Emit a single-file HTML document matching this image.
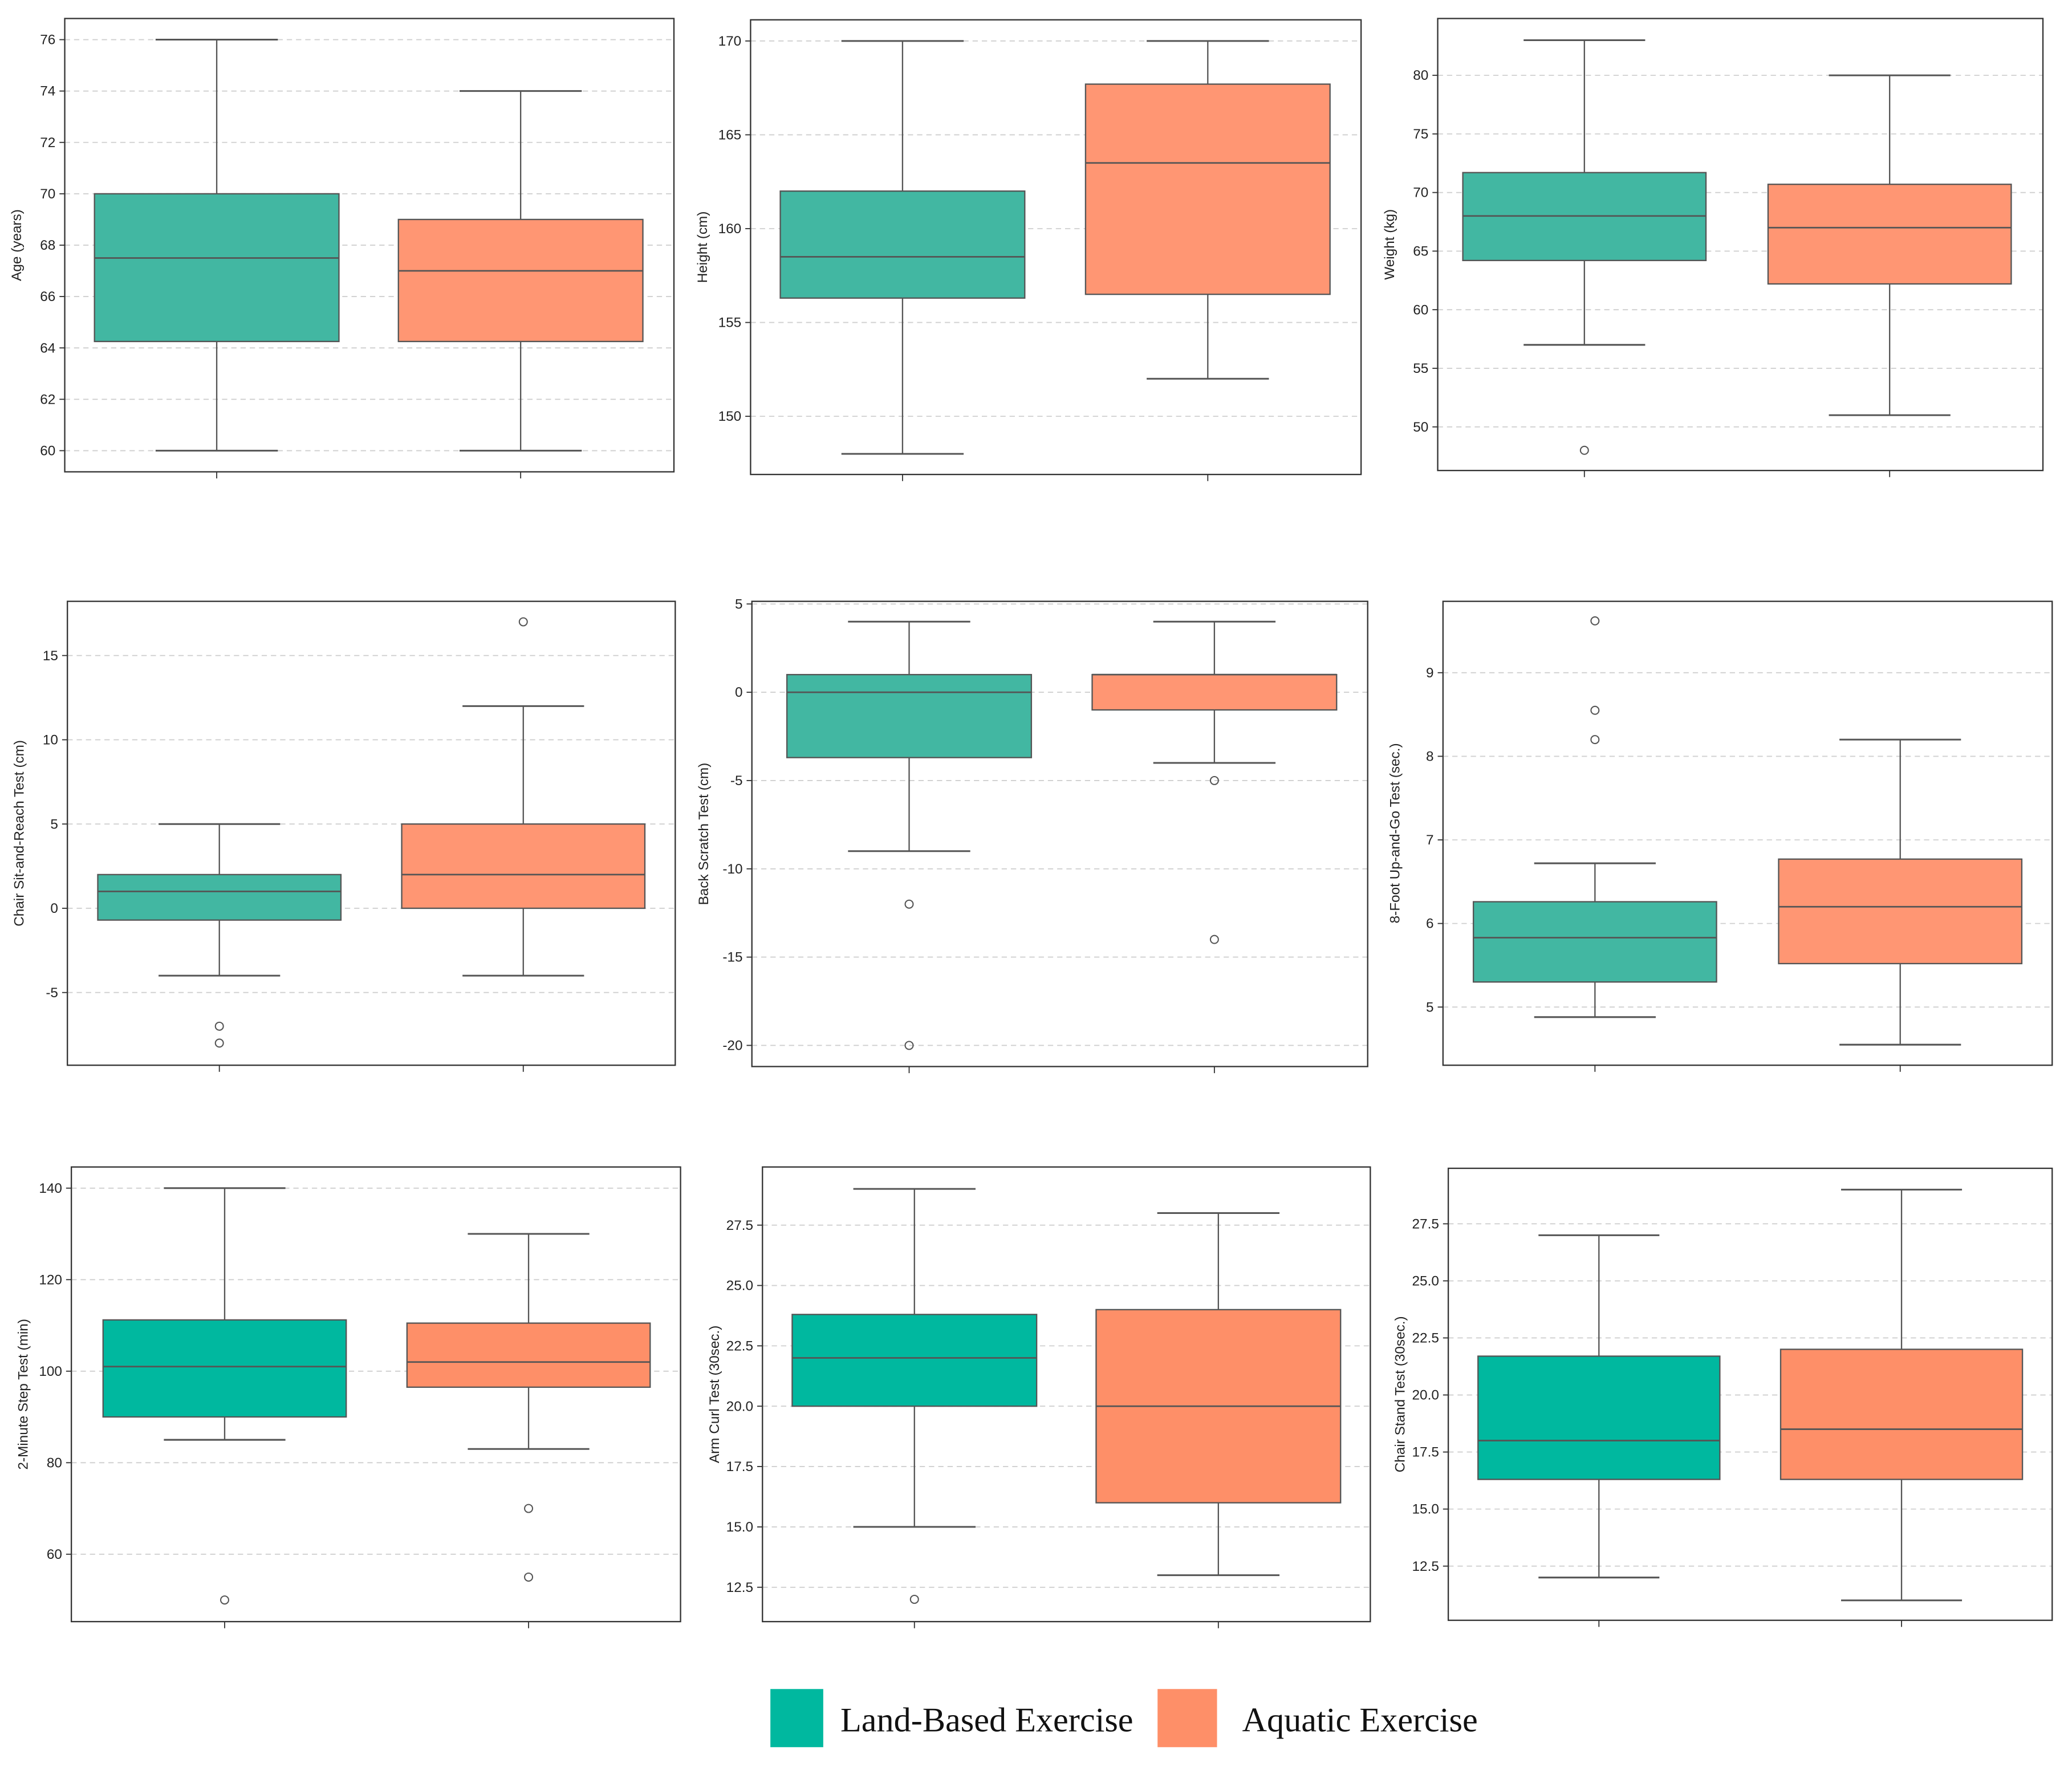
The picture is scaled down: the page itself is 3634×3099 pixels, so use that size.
<!DOCTYPE html>
<html><head><meta charset="utf-8"><style>
html,body{margin:0;padding:0;background:#fff}
svg{display:block}
</style></head><body>
<svg id="fig" xmlns="http://www.w3.org/2000/svg" width="3634" height="3099" viewBox="0 0 1568 1337" preserveAspectRatio="none">
<g>
<rect x="583" y="1278" width="40" height="44" fill="#00b89f"/>
<text x="636" y="1310" font-family="Liberation Serif, serif" font-size="26" fill="#111">Land-Based Exercise</text>
<rect x="876" y="1278" width="45" height="44" fill="#fe8f68"/>
<text x="940" y="1310" font-family="Liberation Serif, serif" font-size="26" fill="#111">Aquatic Exercise</text>
</g>
</svg>
<script>
// ---- data (whisker low, q1, median, q3, whisker high) ----
const groups = ["Land-Based Exercise","Aquatic Exercise"];
const ageLand = [60,64.25,67.5,70,76];
const ageAqua = [60,64.25,67,69,74];
const heightLand = [148,156.3,158.5,162,170];
const heightAqua = [152,156.5,163.5,167.7,170];
const weightLand = [57,64.2,68,71.7,83];
const weightAqua = [51,62.2,67,70.7,80];
const sitLand = [-4,-0.7,1,2,5];
const sitAqua = [-4,0,2,5,12];
const scratchLand = [-9,-3.7,0,1,4];
const scratchAqua = [-4,-1,1,1,4];
const upgoLand = [4.88,5.3,5.83,6.26,6.72];
const upgoAqua = [4.55,5.52,6.2,6.77,8.2];
const stepLand = [85,90,101,111.2,140];
const stepAqua = [83,96.5,102,110.5,130];
const curlLand = [15,20,22,23.8,29];
const curlAqua = [13,16,20,24,28];
const standLand = [12,16.3,18,21.7,27];
const standAqua = [11,16.3,18.5,22,29];
// outliers
const ageOutLand = [], ageOutAqua = [];
const heightOutLand = [], heightOutAqua = [];
const weightOutLand = [48], weightOutAqua = [];
const sitOutLand = [-7,-8], sitOutAqua = [17];
const scratchOutLand = [-12,-20], scratchOutAqua = [-5,-14];
const upgoOutLand = [8.2,8.55,9.62], upgoOutAqua = [];
const stepOutLand = [50], stepOutAqua = [70,55];
const curlOutLand = [12], curlOutAqua = [];
const standOutLand = [], standOutAqua = [];
// tick labels
const ageTicks = [60,62,64,66,68,70,72,74,76];
const heightTicks = [150,155,160,165,170];
const weightTicks = [50,55,60,65,70,75,80];
const sitTicks = [-5,0,5,10,15];
const scratchTicks = [-20,-15,-10,-5,0,5];
const upgoTicks = [5,6,7,8,9];
const stepTicks = [60,80,100,120,140];
const curlTicks = ["12.5","15.0","17.5","20.0","22.5","25.0","27.5"];
const standTicks = ["12.5","15.0","17.5","20.0","22.5","25.0","27.5"];

// ---- layout (pixel geometry, not data) ----
const C1=["#42b7a2","#ff9673"], C3=["#00b89f","#fe8f68"];
const panels = [
 {name:"age",label:"Age (years)",x0:49,x1:510,y0:14,y1:357,v0:60,p0:341,v1:76,p1:30,cx:[164,394],hw:92.5,data:[ageLand,ageAqua],out:[ageOutLand,ageOutAqua],ticks:ageTicks,col:C1},
 {name:"height",label:"Height (cm)",x0:568,x1:1030,y0:15,y1:359,v0:150,p0:315,v1:170,p1:31,cx:[683,914],hw:92.5,data:[heightLand,heightAqua],out:[heightOutLand,heightOutAqua],ticks:heightTicks,col:C1},
 {name:"weight",label:"Weight (kg)",x0:1088,x1:1546,y0:14,y1:356,v0:50,p0:323,v1:80,p1:57,cx:[1199,1430],hw:92,data:[weightLand,weightAqua],out:[weightOutLand,weightOutAqua],ticks:weightTicks,col:C1},
 {name:"sit-reach",label:"Chair Sit-and-Reach Test (cm)",x0:51,x1:511,y0:455,y1:806,v0:-5,p0:751,v1:15,p1:496,cx:[166,396],hw:92,data:[sitLand,sitAqua],out:[sitOutLand,sitOutAqua],ticks:sitTicks,col:C1},
 {name:"back-scratch",label:"Back Scratch Test (cm)",x0:569,x1:1035,y0:455,y1:807,v0:-20,p0:791,v1:5,p1:457,cx:[688,919],hw:92.5,data:[scratchLand,scratchAqua],out:[scratchOutLand,scratchOutAqua],ticks:scratchTicks,col:C1},
 {name:"up-and-go",label:"8-Foot Up-and-Go Test (sec.)",x0:1092,x1:1553,y0:455,y1:806,v0:5,p0:762,v1:9,p1:509,cx:[1207,1438],hw:92,data:[upgoLand,upgoAqua],out:[upgoOutLand,upgoOutAqua],ticks:upgoTicks,col:C1},
 {name:"step-test",label:"2-Minute Step Test (min)",x0:54,x1:515,y0:883,y1:1227,v0:60,p0:1176,v1:140,p1:899,cx:[170,400],hw:92,data:[stepLand,stepAqua],out:[stepOutLand,stepOutAqua],ticks:stepTicks,col:C3},
 {name:"arm-curl",label:"Arm Curl Test (30sec.)",x0:577,x1:1037,y0:883,y1:1227,v0:12.5,p0:1201,v1:27.5,p1:927,cx:[692,922],hw:92.5,data:[curlLand,curlAqua],out:[curlOutLand,curlOutAqua],ticks:curlTicks,col:C3},
 {name:"chair-stand",label:"Chair Stand Test (30sec.)",x0:1096,x1:1553,y0:884,y1:1226,v0:12.5,p0:1185,v1:27.5,p1:926,cx:[1210,1439],hw:91.5,data:[standLand,standAqua],out:[standOutLand,standOutAqua],ticks:standTicks,col:C3}
];
const NS="http://www.w3.org/2000/svg";
const svg=document.getElementById("fig");
function mk(tag,attrs,parent){const e=document.createElementNS(NS,tag);for(const k in attrs)e.setAttribute(k,attrs[k]);parent.appendChild(e);return e;}
panels.forEach(p=>{
 const y=v=>p.p0+(parseFloat(v)-p.v0)*(p.p1-p.p0)/(p.v1-p.v0);
 const g=mk("g",{},svg);
 
 
 p.ticks.forEach(t=>{
  const ty=y(t);
  const gl=mk("line",{x1:p.x0,x2:p.x1,y1:ty,y2:ty,stroke:"#cfcfcf","stroke-width":0.8,"stroke-dasharray":"4,3"},g);
  
  
  mk("line",{x1:p.x0-4,x2:p.x0,y1:ty,y2:ty,stroke:"#333","stroke-width":0.8},g);
  const tl=mk("text",{x:p.x0-7,y:ty+3.5,"text-anchor":"end","font-family":"Liberation Sans, sans-serif","font-size":10.5,fill:"#222"},g);
  tl.textContent=t;
  
  
 });
 p.data.forEach((d,i)=>{
  const cx=p.cx[i], hw=p.hw, cap=hw/2;
  const bg=mk("g",{},g);
  
  
  mk("line",{x1:cx,x2:cx,y1:y(d[0]),y2:y(d[1]),stroke:"#555","stroke-width":1},bg);
  mk("line",{x1:cx,x2:cx,y1:y(d[3]),y2:y(d[4]),stroke:"#555","stroke-width":1},bg);
  mk("line",{x1:cx-cap,x2:cx+cap,y1:y(d[0]),y2:y(d[0]),stroke:"#555","stroke-width":1.3},bg);
  mk("line",{x1:cx-cap,x2:cx+cap,y1:y(d[4]),y2:y(d[4]),stroke:"#555","stroke-width":1.3},bg);
  mk("rect",{x:cx-hw,y:y(d[3]),width:2*hw,height:Math.max(0.5,y(d[1])-y(d[3])),fill:p.col[i],stroke:"#555","stroke-width":1},bg);
  mk("line",{x1:cx-hw,x2:cx+hw,y1:y(d[2]),y2:y(d[2]),stroke:"#555","stroke-width":1.2},bg);
  p.out[i].forEach(o=>{
   const c=mk("circle",{cx:cx,cy:y(o),r:3,fill:"none",stroke:"#555","stroke-width":0.9},g);
   
   
  });
  mk("line",{x1:cx,x2:cx,y1:p.y1,y2:p.y1+5,stroke:"#333","stroke-width":0.8},g);
 });
 const fr=mk("rect",{x:p.x0,y:p.y0,width:p.x1-p.x0,height:p.y1-p.y0,fill:"none",stroke:"#333","stroke-width":1},g);
 
 
 const lx=p.x0-33, ly=(p.y0+p.y1)/2;
 const yl=mk("text",{x:lx,y:ly,transform:`rotate(-90 ${lx} ${ly})`,"text-anchor":"middle","font-family":"Liberation Sans, sans-serif","font-size":10.5,fill:"#222"},g);
 yl.textContent=p.label;
 
 
});
</script>
</body></html>
